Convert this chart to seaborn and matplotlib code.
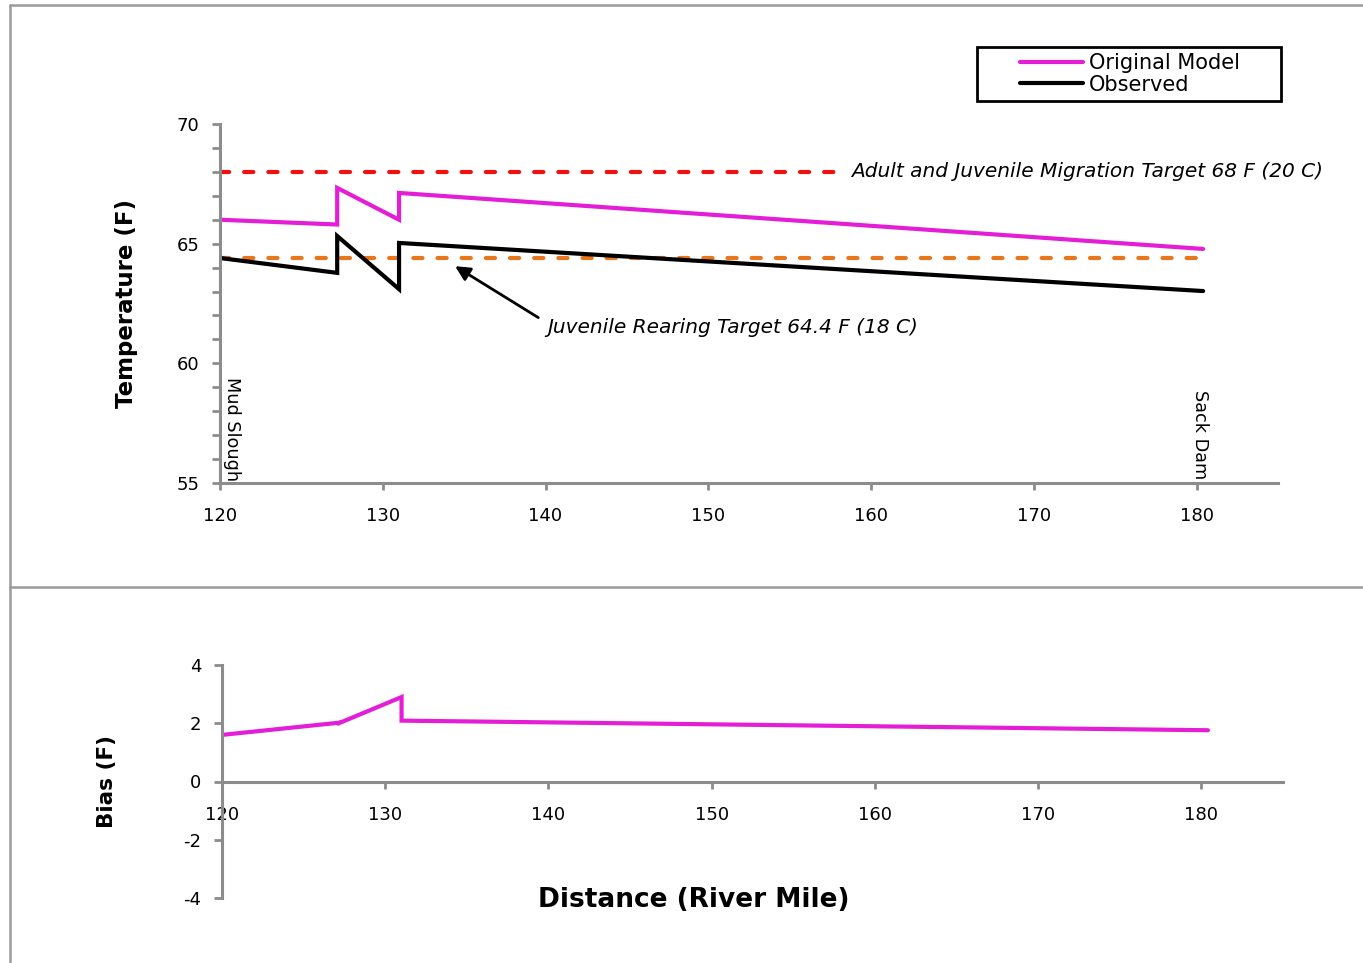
import matplotlib
matplotlib.use("Agg")
import matplotlib.pyplot as plt
from matplotlib.lines import Line2D
from matplotlib.patches import Rectangle
import numpy as np
import pandas as pd
import seaborn as sns

# River profile of temperature (F) along the river mile
river_mile = [120.0, 127.2, 127.2, 131.0, 131.0, 180.4]
original_model = [66.0, 65.8, 67.33, 66.0, 67.12, 64.78]
observed = [64.4, 63.78, 65.32, 63.1, 65.03, 63.02]

# Temperature targets and their drawn extent (river mile)
migration_target = 68.0
migration_extent = [120.0, 157.8]
rearing_target = 64.4
rearing_extent = [120.0, 180.4]

temp_ticks = [55, 60, 65, 70]
bias_ticks = [-4, -2, 0, 2, 4]
mile_ticks = [120, 130, 140, 150, 160, 170, 180]

series_labels = ["Original Model", "Observed"]

MAGENTA = "#E41ED6"
ORANGE = "#E8761C"
RED = "#F01010"
AXIS_GRAY = "#8C8C8C"
FRAME_GRAY = "#9A9A9A"

TICK_FS = 13
NOTE_FS = 14.5

sns.set_theme(style="white")
plt.rcParams["font.family"] = ["DejaVu Sans"]
plt.rcParams["axes.unicode_minus"] = False
plt.rcParams["text.color"] = "black"
plt.rcParams["axes.labelcolor"] = "black"
plt.rcParams["xtick.labelcolor"] = "black"
plt.rcParams["ytick.labelcolor"] = "black"

W, H = 1363, 963
fig = plt.figure(figsize=(W / 100, H / 100), dpi=100)


def fx(px):
    return px / W


def fy(py):
    return 1 - py / H


profile = pd.DataFrame({"mile": river_mile, "model": original_model, "obs": observed})
profile["bias"] = profile["model"] - profile["obs"]

# ---------------- upper panel: temperature ----------------
ax = fig.add_axes([fx(220), fy(483), fx(1278) - fx(220), fy(124) - fy(483)])
ax.set_xlim(120, 185)
ax.set_ylim(55, 70)

sns.lineplot(x=migration_extent, y=[migration_target] * 2, ax=ax, color=RED,
             lw=3, linestyle=(0, (2.2, 3.6)), dash_capstyle="round", legend=False)
sns.lineplot(x=rearing_extent, y=[rearing_target] * 2, ax=ax, color=ORANGE,
             lw=3, linestyle=(0, (2.2, 3.6)), dash_capstyle="round", legend=False)
sns.lineplot(data=profile, x="mile", y="model", ax=ax, estimator=None, sort=False,
             color=MAGENTA, lw=3, solid_joinstyle="miter", legend=False)
sns.lineplot(data=profile, x="mile", y="obs", ax=ax, estimator=None, sort=False,
             color="black", lw=3, solid_joinstyle="miter", legend=False)

ax.set_xticks(mile_ticks)
ax.set_yticks(temp_ticks)
ax.set_yticks(np.arange(55, 71, 1), minor=True)
for s in ["top", "right"]:
    ax.spines[s].set_visible(False)
for s in ["left", "bottom"]:
    ax.spines[s].set_color(AXIS_GRAY)
    ax.spines[s].set_linewidth(2.2)
ax.tick_params(axis="y", which="both", direction="out", length=6, width=2,
               color=AXIS_GRAY, left=True, labelsize=TICK_FS, pad=9)
ax.tick_params(axis="x", which="major", direction="out", length=5, width=2,
               color=AXIS_GRAY, bottom=True, labelsize=TICK_FS, pad=12)
ax.set_xlabel("")
ax.set_ylabel("Temperature (F)", fontsize=16.5, fontweight="bold")
ax.yaxis.set_label_coords(-0.0775, 0.5)

ax.text(158.8, 68.0, "Adult and Juvenile Migration Target 68 F (20 C)",
        fontsize=NOTE_FS, style="italic", ha="left", va="center")
ax.text(140.1, 61.48, "Juvenile Rearing Target 64.4 F (18 C)",
        fontsize=NOTE_FS, style="italic", ha="left", va="center")
ax.annotate("", xy=(134.3, 64.12), xytext=(139.7, 61.85),
            arrowprops=dict(arrowstyle="-|>", color="black", lw=2, mutation_scale=22))
ax.text(120.74, 59.43, "Mud Slough", rotation=270, fontsize=12.7,
        ha="center", va="top")
ax.text(180.2, 58.89, "Sack Dam", rotation=270, fontsize=12.7,
        ha="center", va="top")

# legend with its own rectangular frame
handles = [Line2D([], [], color=MAGENTA, lw=3), Line2D([], [], color="black", lw=3)]
fig.add_artist(Rectangle((fx(977), fy(101)), fx(1281) - fx(977), fy(47) - fy(101),
                         transform=fig.transFigure, fill=False, edgecolor="black", lw=2))
fig.legend(handles, series_labels, loc="center", bbox_to_anchor=(fx(1130), fy(74)),
           frameon=False, fontsize=15, handlelength=3.0, handletextpad=0.3,
           labelspacing=0.05, borderpad=0)

# ---------------- lower panel: bias ----------------
bx = fig.add_axes([fx(222), fy(898), fx(1283) - fx(222), fy(665) - fy(898)])
bx.set_xlim(120, 185)
bx.set_ylim(-4, 4)
sns.lineplot(data=profile, x="mile", y="bias", ax=bx, estimator=None, sort=False,
             color=MAGENTA, lw=3, solid_joinstyle="miter", legend=False)
bx.set_xticks(mile_ticks)
bx.set_yticks(bias_ticks)
for s in ["top", "right"]:
    bx.spines[s].set_visible(False)
for s in ["left", "bottom"]:
    bx.spines[s].set_color(AXIS_GRAY)
    bx.spines[s].set_linewidth(2.2)
bx.spines["bottom"].set_position(("data", 0))
bx.tick_params(axis="y", direction="out", length=6, width=2, color=AXIS_GRAY,
               left=True, labelsize=TICK_FS, pad=9)
bx.tick_params(axis="x", direction="out", length=5, width=2, color=AXIS_GRAY,
               bottom=True, labelsize=TICK_FS, pad=13)
bx.set_xlabel("")
bx.set_ylabel("Bias (F)", fontsize=15.5, fontweight="bold")
bx.yaxis.set_label_coords(-0.099, 0.5)

fig.text(fx(694), fy(900), "Distance (River Mile)", fontsize=19, fontweight="bold",
         ha="center", va="center")

# panel frames
for xs, ys in [([10, 10], [5, 963]), ([10, 1363], [5, 5]), ([10, 1363], [587, 587])]:
    fig.add_artist(Line2D([fx(x) for x in xs], [fy(y) for y in ys],
                          transform=fig.transFigure, color=FRAME_GRAY, lw=1.8))

fig.savefig("out.png", dpi=100, facecolor="white")
